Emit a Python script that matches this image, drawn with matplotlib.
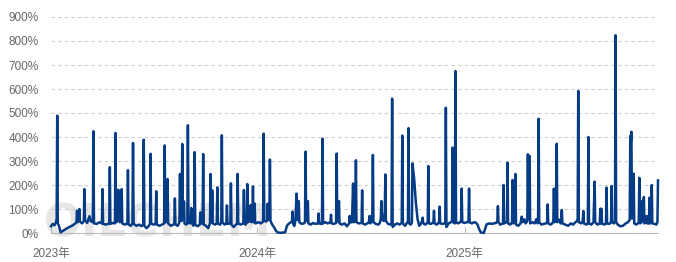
import pandas as pd
import matplotlib
matplotlib.use('Agg')
import matplotlib.pyplot as plt

plt.rcParams['font.family'] = ['Liberation Sans', 'Noto Sans CJK SC', 'DejaVu Sans']

# readings per year: "MM-DD" and value in %
days_2023 = ["01-01", "01-04", "01-07", "01-10", "01-11", "01-12", "01-13", "01-15", "01-18", "01-24",
             "01-31", "02-07", "02-12", "02-15", "02-16", "02-17", "02-19", "02-20", "02-21", "02-25",
             "02-28", "03-01", "03-02", "03-06", "03-10", "03-12", "03-16", "03-17", "03-18", "03-23",
             "03-28", "04-01", "04-02", "04-03", "04-08", "04-14", "04-15", "04-16", "04-20", "04-24",
             "04-25", "04-26", "04-29", "04-30", "05-01", "05-03", "05-05", "05-06", "05-07", "05-11",
             "05-16", "05-17", "05-18", "05-22", "05-25", "05-26", "05-27", "06-01", "06-06", "06-10",
             "06-13", "06-14", "06-15", "06-19", "06-23", "06-25", "06-26", "06-27", "07-01", "07-05",
             "07-06", "07-07", "07-12", "07-16", "07-20", "07-21", "07-22", "07-25", "07-26", "07-27",
             "08-01", "08-05", "08-07", "08-08", "08-09", "08-13", "08-16", "08-17", "08-18", "08-20",
             "08-21", "08-22", "08-23", "08-24", "08-25", "08-28", "08-30", "08-31", "09-01", "09-03",
             "09-05", "09-06", "09-07", "09-10", "09-11", "09-12", "09-13", "09-17", "09-21", "09-22",
             "09-23", "09-26", "09-27", "09-28", "10-02", "10-06", "10-09", "10-10", "10-11", "10-12",
             "10-13", "10-14", "10-18", "10-21", "10-22", "10-23", "10-27", "10-29", "10-30", "10-31",
             "11-04", "11-07", "11-08", "11-09", "11-14", "11-15", "11-16", "11-20", "11-24", "11-26",
             "11-27", "11-28", "12-02", "12-07", "12-08", "12-09", "12-11", "12-13", "12-14", "12-15",
             "12-18", "12-20", "12-21", "12-23", "12-24", "12-25", "12-26", "12-27", "12-28", "12-31"]
vals_2023 = [28, 38, 32, 45, 60, 489, 40, 30, 3, 12,
             22, 30, 38, 45, 93, 45, 55, 100, 48, 40,
             50, 183, 55, 42, 70, 50, 45, 424, 40, 38,
             45, 40, 183, 38, 35, 40, 274, 38, 42, 40,
             417, 45, 50, 180, 60, 45, 50, 183, 40, 35,
             40, 262, 35, 30, 40, 375, 38, 30, 35, 28,
             36, 389, 30, 20, 30, 40, 330, 40, 35, 38,
             174, 35, 30, 35, 40, 365, 45, 50, 225, 40,
             30, 35, 40, 144, 35, 30, 45, 246, 60, 50,
             371, 60, 55, 132, 40, 35, 40, 449, 45, 40,
             45, 104, 40, 30, 40, 337, 35, 28, 35, 86,
             40, 40, 329, 35, 30, 20, 40, 246, 60, 45,
             178, 40, 35, 40, 190, 40, 35, 45, 407, 45,
             35, 40, 115, 38, 40, 207, 35, 25, 35, 40,
             246, 40, 35, 40, 179, 40, 35, 45, 204, 45,
             50, 117, 45, 50, 194, 45, 50, 122, 40, 42]

days_2024 = ["01-03", "01-07", "01-10", "01-11", "01-12", "01-13", "01-16", "01-18", "01-19", "01-20",
             "01-22", "01-23", "01-24", "01-27", "01-30", "02-03", "02-06", "02-12", "02-19", "02-22",
             "02-25", "02-29", "03-02", "03-03", "03-04", "03-06", "03-08", "03-10", "03-12", "03-14",
             "03-15", "03-19", "03-23", "03-25", "03-26", "03-27", "03-29", "03-30", "03-31", "04-04",
             "04-08", "04-12", "04-17", "04-18", "04-19", "04-23", "04-24", "04-25", "04-26", "04-30",
             "05-04", "05-09", "05-10", "05-11", "05-15", "05-19", "05-20", "05-21", "05-23", "05-24",
             "05-25", "05-29", "06-03", "06-07", "06-11", "06-12", "06-13", "06-16", "06-18", "06-19",
             "06-22", "06-23", "06-24", "06-28", "07-03", "07-04", "07-05", "07-09", "07-13", "07-16",
             "07-17", "07-18", "07-20", "07-22", "07-23", "07-24", "07-28", "08-01", "08-04", "08-06",
             "08-07", "08-08", "08-11", "08-13", "08-14", "08-15", "08-19", "08-23", "08-25", "08-26",
             "08-27", "08-31", "09-04", "09-08", "09-12", "09-13", "09-14", "09-18", "09-22", "09-23",
             "09-24", "09-25", "09-28", "09-30", "10-01", "10-04", "10-07", "10-10", "10-13", "10-16",
             "10-18", "10-19", "10-20", "10-24", "10-28", "10-29", "10-30", "11-03", "11-07", "11-08",
             "11-09", "11-13", "11-17", "11-18", "11-19", "11-23", "11-27", "11-28", "11-29", "11-30",
             "12-04", "12-08", "12-10", "12-11", "12-12", "12-15", "12-16", "12-17", "12-21", "12-24",
             "12-26", "12-27", "12-28"]
vals_2024 = [45, 40, 45, 55, 414, 50, 48, 50, 122, 55,
             60, 306, 50, 35, 25, 8, 2, 1, 3, 30,
             38, 45, 48, 89, 40, 29, 50, 164, 55, 133,
             45, 38, 40, 45, 339, 55, 50, 133, 40, 35,
             42, 38, 40, 81, 40, 38, 40, 393, 40, 45,
             40, 45, 76, 40, 38, 42, 331, 50, 50, 133,
             40, 35, 40, 28, 40, 71, 45, 45, 206, 45,
             50, 303, 45, 40, 42, 178, 40, 35, 40, 45,
             71, 40, 45, 80, 325, 45, 38, 35, 40, 60,
             133, 60, 50, 90, 244, 50, 38, 35, 40, 560,
             25, 35, 40, 35, 42, 406, 40, 30, 45, 50,
             437, 40, 35, 45, 290, 225, 126, 57, 30, 40,
             50, 64, 40, 35, 45, 279, 40, 38, 45, 92,
             40, 35, 45, 110, 40, 38, 40, 45, 522, 25,
             40, 45, 50, 356, 45, 40, 675, 45, 40, 45,
             50, 185, 45]

days_2025 = ["01-01", "01-05", "01-08", "01-09", "01-10", "01-14", "01-18", "01-21", "01-24", "01-27",
             "01-30", "02-04", "02-09", "02-14", "02-18", "02-22", "02-26", "02-28", "03-01", "03-02",
             "03-05", "03-10", "03-11", "03-12", "03-16", "03-17", "03-18", "03-19", "03-23", "03-26",
             "03-27", "03-28", "03-31", "04-01", "04-02", "04-06", "04-10", "04-12", "04-14", "04-17",
             "04-19", "04-22", "04-23", "04-24", "04-25", "04-26", "04-27", "05-01", "05-05", "05-08",
             "05-10", "05-11", "05-12", "05-13", "05-17", "05-21", "05-25", "05-27", "05-28", "05-29",
             "06-02", "06-05", "06-07", "06-08", "06-09", "06-12", "06-13", "06-14", "06-17", "06-20",
             "06-22", "06-23", "06-28", "07-03", "07-08", "07-12", "07-16", "07-19", "07-20", "07-21",
             "07-22", "07-26", "07-29", "07-30", "07-31", "08-04", "08-07", "08-08", "08-09", "08-13",
             "08-17", "08-19", "08-20", "08-24", "08-28", "08-29", "08-30", "08-31", "09-01", "09-05",
             "09-08", "09-09", "09-10", "09-14", "09-17", "09-18", "09-19", "09-22", "09-24", "09-25",
             "09-26", "09-29", "10-03", "10-08", "10-13", "10-17", "10-20", "10-21", "10-22", "10-23",
             "10-24", "10-27", "10-28", "11-01", "11-05", "11-06", "11-07", "11-10", "11-11", "11-12",
             "11-14", "11-15", "11-18", "11-19", "11-20", "11-23", "11-24", "11-25", "11-27", "11-28",
             "11-29", "12-03", "12-06", "12-08", "12-09"]
vals_2025 = [42, 45, 45, 185, 45, 40, 45, 43, 35, 15,
             2, 0, 36, 40, 38, 40, 42, 50, 112, 45,
             35, 40, 200, 40, 45, 50, 293, 40, 35, 45,
             221, 40, 45, 246, 35, 30, 40, 68, 45, 57,
             40, 50, 328, 60, 60, 321, 40, 45, 40, 58,
             40, 45, 476, 45, 35, 38, 40, 45, 119, 40,
             35, 40, 50, 185, 45, 50, 372, 45, 55, 40,
             96, 40, 35, 30, 40, 35, 45, 50, 60, 592,
             45, 40, 50, 92, 40, 35, 40, 400, 40, 35,
             45, 214, 45, 35, 40, 101, 40, 101, 40, 35,
             40, 189, 40, 38, 45, 196, 45, 40, 50, 824,
             45, 35, 28, 30, 40, 45, 55, 404, 380, 422,
             60, 247, 40, 35, 45, 230, 40, 45, 133, 50,
             150, 40, 45, 71, 40, 40, 147, 40, 45, 200,
             40, 38, 35, 45, 219]

year_ticks = ["2023-01-01", "2024-01-01", "2025-01-01"]
year_labels = ["2023年", "2024年", "2025年"]

dates = pd.to_datetime(["2023-" + d for d in days_2023] +
                       ["2024-" + d for d in days_2024] +
                       ["2025-" + d for d in days_2025])
values = vals_2023 + vals_2024 + vals_2025

fig = plt.figure(figsize=(6.76, 2.62), dpi=100)
ax = fig.add_axes([51 / 676, 1 - 233 / 262, 607 / 676, 216 / 262])
ax.set_facecolor('none')

# faint watermark behind the plot
fig.text(44 / 676, 1 - 224 / 262, 'OILCHEM', fontsize=32, fontweight='bold',
         color='#e6e6e6', va='center', ha='left', zorder=-1, family='DejaVu Sans')

ax.plot(dates, values, color='#063b86', lw=1.8, zorder=3, clip_on=False)

ax.set_ylim(0, 900)
ax.set_yticks(range(0, 1000, 100))
ax.set_yticklabels([f'{v}%' for v in range(0, 1000, 100)])
ax.set_xlim(dates[0], dates[-1])
ax.set_xticks(pd.to_datetime(year_ticks))
ax.set_xticklabels(year_labels)

ax.grid(axis='y', linestyle=(0, (3, 3)), color='#cccccc', lw=0.8)
for s in ['top', 'right', 'left']:
    ax.spines[s].set_visible(False)
ax.spines['bottom'].set_color('#bbbbbb')
ax.tick_params(axis='y', length=0, pad=9, labelcolor='#666666', labelsize=8.5)
ax.tick_params(axis='x', direction='in', length=4, color='#bbbbbb', pad=11,
               labelcolor='#666666', labelsize=8.5)

fig.savefig('out.png', dpi=100)
